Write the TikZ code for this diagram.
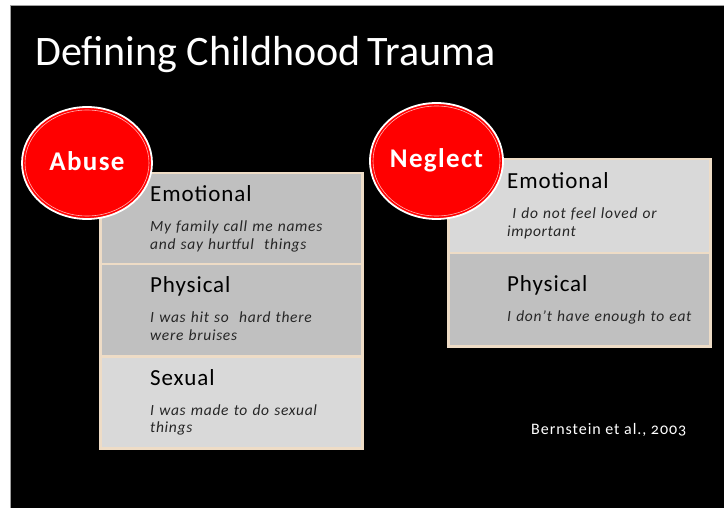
\documentclass[tikz,border=0pt]{standalone}
\usepackage{fontspec}
\usetikzlibrary{shapes.geometric}
\setmainfont{Carlito}
\newfontfamily\widefont[LetterSpace=4]{Carlito}
\newfontfamily\subfont[LetterSpace=4.5]{Carlito}
\newfontfamily\badgefont[LetterSpace=5]{Carlito}
\newfontfamily\citefont[Numbers=OldStyle,LetterSpace=6]{Carlito}
\definecolor{boxdark}{HTML}{C0C0C0}
\definecolor{boxlight}{HTML}{D9D9D9}
\definecolor{boxedge}{HTML}{EEDCC6}
\definecolor{frameline}{HTML}{A0A0A0}
\begin{document}
\begin{tikzpicture}[x=1pt,y=-1pt,
  rowbox/.style={draw=boxedge,line width=2.5pt,minimum width=262pt,anchor=north west,inner sep=0pt},
  headtxt/.style={anchor=base west,inner sep=0pt,font=\widefont\fontsize{23}{25}\selectfont,text=black},
  subtxt/.style={anchor=base west,inner sep=0pt,font=\subfont\fontsize{15.5}{17.3}\selectfont\itshape,text=black!85,align=left,text width=205pt},
  badge/.style={ellipse,draw=white,line width=1.8pt,fill=red,inner sep=0pt},
  badgetxt/.style={anchor=base,inner sep=0pt,text=white,font=\badgefont\fontsize{27}{29}\selectfont\bfseries},
]
\useasboundingbox (0,0) rectangle (724,508);
\fill[white] (0,0) rectangle (724,508);
\fill[black] (10,6) rectangle (724,508);
\draw[frameline,line width=1pt] (10,508) -- (10,6) -- (724,6);
\node[anchor=base west,inner sep=0pt,text=white,font=\fontsize{42}{46}\selectfont] (title) at (35,66) {Defining Childhood\,Trauma};
% Abuse rows
\node[rowbox,fill=boxdark,minimum height=91pt] (ae) at (99,172) {};
\node[rowbox,fill=boxdark,minimum height=92pt] (ap) at (99,263) {};
\node[rowbox,fill=boxlight,minimum height=92pt] (as) at (99,355) {};
\node[headtxt] (aet) at (150,202) {Emotional};
\node[subtxt] (aes) at (150,232) {My family call me names\\and say hurtful\ \ things};
\node[headtxt] (apt) at (150,293) {Physical};
\node[subtxt] (aps) at (150,323) {I was hit so\ \ hard there\\were bruises};
\node[headtxt] (ast) at (150,385) {Sexual};
\node[subtxt] (ass) at (150,415) {I was made to do sexual\\things};
% Neglect rows
\node[rowbox,fill=boxlight,minimum height=94pt] (ne) at (447,158) {};
\node[rowbox,fill=boxdark,minimum height=93pt] (np) at (447,252) {};
\node[headtxt] (net) at (507,189) {Emotional};
\node[subtxt] (nes) at (507,219) {\ I do not feel loved or\\important};
\node[headtxt] (npt) at (507,291) {Physical};
\node[subtxt] (nps) at (507,321) {I don’t have enough to eat};
% badges
\node[badge,minimum width=130pt,minimum height=112pt] (abuse) at (87,163) {};
\draw[white!70!red,line width=0.6pt] (abuse.center) ellipse [x radius=62pt,y radius=53pt];
\node[badgetxt] (abuset) at (87,171) {Abuse};
\node[badge,minimum width=133pt,minimum height=116pt] (neglect) at (436.5,161) {};
\draw[white!70!red,line width=0.6pt] (neglect.center) ellipse [x radius=63.5pt,y radius=55pt];
\node[badgetxt] (neglectt) at (436.5,168) {Neglect};
\node[anchor=base west,inner sep=0pt,text=white,font=\citefont\fontsize{16}{18}\selectfont] (cite) at (531,434) {Bernstein et al., 2003};
\end{tikzpicture}
\end{document}
